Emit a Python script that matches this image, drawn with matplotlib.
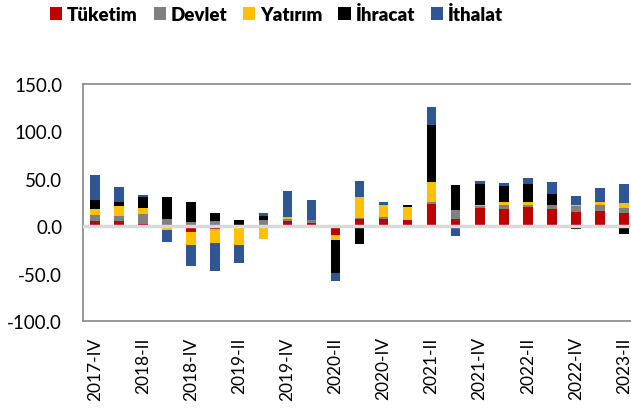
import numpy as np
import matplotlib.pyplot as plt

plt.rcParams['font.family'] = ['Lato', 'DejaVu Sans']

quarters = ['2017-IV', '2018-I', '2018-II', '2018-III', '2018-IV',
            '2019-I', '2019-II', '2019-III', '2019-IV',
            '2020-I', '2020-II', '2020-III', '2020-IV',
            '2021-I', '2021-II', '2021-III', '2021-IV',
            '2022-I', '2022-II', '2022-III', '2022-IV',
            '2023-I', '2023-II']

tuketim = [6.0, 6.0, 2.8, -1.0, -6.0, -2.5, 0.0, 1.0, 6.0, 3.5, -8.8, 7.7,
           7.4, 7.0, 23.0, 8.0, 19.0, 17.9, 20.0, 17.9, 14.7, 15.8, 14.0]
devlet = [5.6, 4.6, 9.8, 8.0, 4.9, 5.0, 1.4, 5.6, 2.0, 2.8, 0.0, 1.0,
          2.0, 0.0, 2.8, 9.0, 2.0, 4.6, 2.0, 4.2, 6.3, 6.3, 5.6]
yatirim = [7.0, 11.2, 7.0, -3.5, -13.7, -15.0, -20.0, -13.3, 1.5, 0.0, -5.6, 22.5,
           12.6, 13.0, 21.0, -1.0, 1.8, 2.8, 3.9, -1.0, 1.0, 3.5, 4.9]
ihracat = [8.8, 4.2, 10.9, 22.8, 21.0, 8.4, 5.6, 3.9, 0.5, 0.0, -35.4, -19.0,
           0.0, 2.0, 60.0, 26.3, 22.0, 16.8, 18.2, 11.6, -2.5, -2.0, -8.0]
ithalat = [26.7, 15.8, 2.8, -12.6, -22.8, -29.5, -19.0, 3.9, 27.4, 21.0, -8.4, 16.5,
           3.9, -2.0, 19.3, -9.5, 2.8, 3.5, 7.0, 13.3, 10.2, 15.0, 20.4]

series = [('Tüketim', tuketim, '#C00000'),
          ('Devlet', devlet, '#808080'),
          ('Yatırım', yatirim, '#FFC000'),
          ('İhracat', ihracat, '#000000'),
          ('İthalat', ithalat, '#2F5597')]

fig = plt.figure(figsize=(6.31, 4.10), dpi=100)
ax = fig.add_axes([83 / 631, 88 / 410, 553 / 631, 237 / 410])

x = np.arange(len(quarters))
pos_bottom = np.zeros(len(quarters))
neg_bottom = np.zeros(len(quarters))
for name, vals, col in series:
    v = np.array(vals)
    bottom = np.where(v >= 0, pos_bottom, neg_bottom)
    ax.bar(x, v, 0.4, bottom=bottom, color=col, label=name, zorder=2)
    pos_bottom += np.where(v >= 0, v, 0)
    neg_bottom += np.where(v < 0, v, 0)

ax.axhline(0, color='#d9d9d9', lw=2.5, zorder=3)

ax.set_xlim(-0.5, len(quarters) - 0.5)
ax.set_ylim(-100, 150)
ax.set_yticks(np.arange(-100, 151, 50))
ax.set_yticklabels([f'{t:.1f}' for t in np.arange(-100, 151, 50)], fontsize=13.5)
ax.set_xticks(x[::2])
ax.set_xticklabels(quarters[::2], rotation=90, fontsize=12.5)
ax.tick_params(axis='y', length=0, pad=15)
ax.tick_params(axis='x', length=0, pad=11)

for s in ax.spines.values():
    s.set_color('#868686')
    s.set_linewidth(1.2)

fig.legend(loc='center', bbox_to_anchor=(0.438, 0.963), ncol=5, frameon=False,
           prop={'weight': 'heavy', 'size': 13.5}, handlelength=0.65, handleheight=0.65,
           handletextpad=0.25, columnspacing=0.85, borderaxespad=0)

fig.savefig('out.png', dpi=100)
